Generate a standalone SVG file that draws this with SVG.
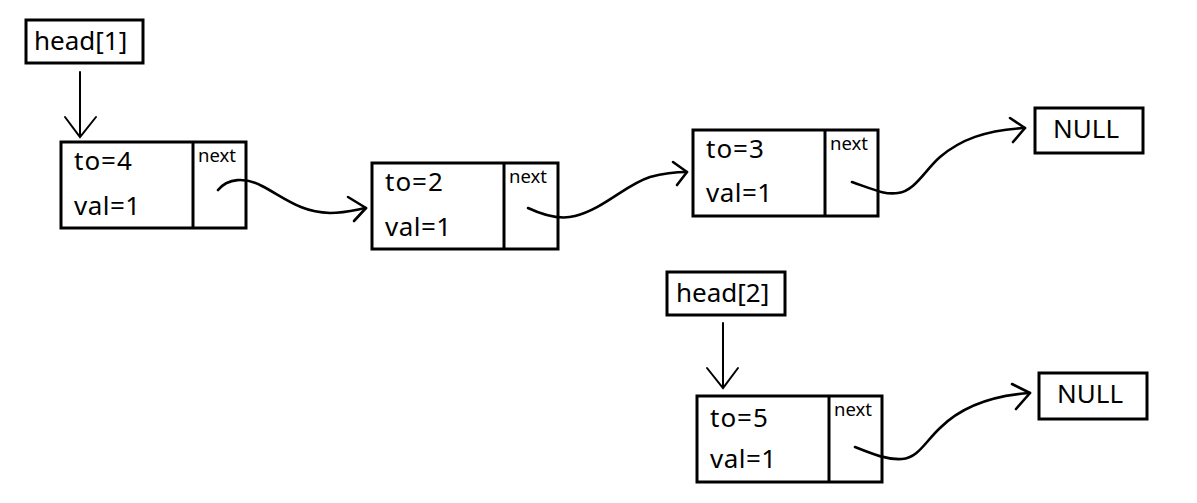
<svg xmlns="http://www.w3.org/2000/svg" width="1197" height="503" viewBox="0 0 1197 503">
<style>
.box{fill:#fff;stroke:#000;stroke-width:3}
.div{stroke:#000;stroke-width:3}
.t{font-family:"Noto Sans","Liberation Sans",sans-serif;font-size:26px;fill:#000}
.n{font-family:"Noto Sans","Liberation Sans",sans-serif;font-size:18.5px;fill:#000}
.c{fill:none;stroke:#000;stroke-width:2.6;stroke-linecap:round;stroke-linejoin:round}
.h{fill:none;stroke:#000;stroke-width:2;stroke-linecap:round}
</style>
<rect width="1197" height="503" fill="#fff"/>
<g id="head1"><rect class="box" x="26" y="20" width="117" height="43"/><text class="t" x="34" y="50">head[1]</text></g>
<g id="node1"><rect class="box" x="61" y="142" width="185" height="86"/><line class="div" x1="193" y1="142" x2="193" y2="228"/><text class="t" x="74" y="170" letter-spacing="1">to=4</text><text class="t" x="74" y="215" letter-spacing="0.5">val=1</text><text class="n" x="198" y="162">next</text></g>
<g id="node2"><rect class="box" x="372" y="163" width="186" height="86"/><line class="div" x1="504" y1="163" x2="504" y2="249"/><text class="t" x="385" y="191" letter-spacing="1">to=2</text><text class="t" x="385" y="236" letter-spacing="0.5">val=1</text><text class="n" x="509" y="183">next</text></g>
<g id="node3"><rect class="box" x="693" y="130" width="185" height="86"/><line class="div" x1="825" y1="130" x2="825" y2="216"/><text class="t" x="706" y="158" letter-spacing="1">to=3</text><text class="t" x="706" y="202" letter-spacing="0.5">val=1</text><text class="n" x="830" y="150">next</text></g>
<g id="null1"><rect class="box" x="1035" y="108" width="108" height="45"/><text class="t" x="1053" y="138">NULL</text></g>
<g id="head2"><rect class="box" x="667" y="272" width="118" height="43"/><text class="t" x="676" y="302">head[2]</text></g>
<g id="node4"><rect class="box" x="697" y="396" width="185" height="86"/><line class="div" x1="829" y1="396" x2="829" y2="482"/><text class="t" x="710" y="427" letter-spacing="1">to=5</text><text class="t" x="710" y="468" letter-spacing="0.5">val=1</text><text class="n" x="834" y="416">next</text></g>
<g id="null2"><rect class="box" x="1039" y="373" width="108" height="46"/><text class="t" x="1057" y="403">NULL</text></g>
<g id="connectors">
<path class="h" d="M80,72 V137 M65,117 L80,137 L96,117"/>
<path class="h" d="M723,323 V388 M707,368 L723,388 L738,368"/>
<path class="c" d="M218,190 C228,178 245,177 262,186 C285,198 300,212 330,213 C345,213 355,210 366,208"/>
<path class="c" d="M348,197 L366,208 L354,221"/>
<path class="c" d="M528,208 C545,216 560,220 575,216 C605,208 625,185 650,177 C665,173 675,172 687,172"/>
<path class="c" d="M673,162 L687,172 L677,185"/>
<path class="c" d="M852,182 C875,190 885,195 898,193 C915,191 925,170 940,157 C960,140 985,130 1025,128"/>
<path class="c" d="M1010,118 L1025,128 L1013,142"/>
<path class="c" d="M855,447 C875,455 888,460 902,459 C918,458 925,442 940,428 C958,410 985,396 1030,393"/>
<path class="c" d="M1012,384 L1030,393 L1016,409"/>
</g>
</svg>
